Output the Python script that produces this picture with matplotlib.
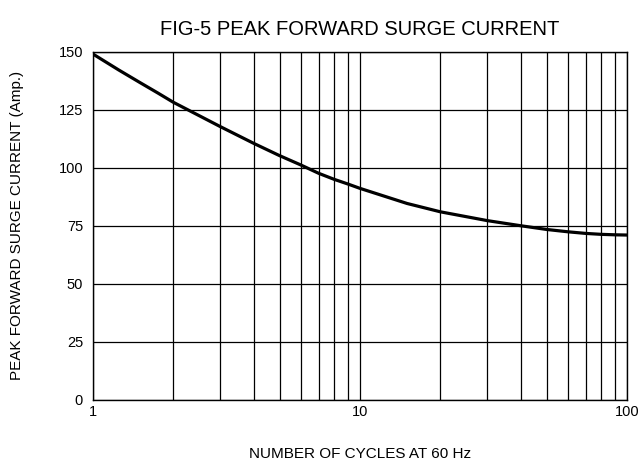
import numpy as np
import matplotlib
matplotlib.use("Agg")
import matplotlib.pyplot as plt
from matplotlib.ticker import LogLocator, FixedLocator, NullFormatter

plt.rcParams["font.family"] = ["Liberation Sans Narrow", "Liberation Sans", "DejaVu Sans"]

# values
cycles = [1, 1.25, 1.5, 1.75, 2, 3, 4, 5, 6, 7, 8, 9, 10, 15, 20, 30, 40, 50, 60, 70, 80, 90, 100]
current = [149.0, 142.1, 136.7, 132.2, 128.2, 117.7, 110.5, 105.2, 101.2, 97.6, 95.0, 93.0, 91.1,
           84.6, 81.0, 77.2, 75.0, 73.4, 72.4, 71.7, 71.3, 71.1, 71.0]

y_ticks = [0, 25, 50, 75, 100, 125, 150]
x_ticks = [1, 10, 100]
x_tick_labels = ["1", "10", "100"]

fig = plt.figure(figsize=(6.4, 4.65), dpi=100)
ax = fig.add_axes([0.145, 0.140, 0.835, 0.749])

ax.plot(cycles, current, color="black", linewidth=2.3, solid_capstyle="butt")

ax.set_xscale("log")
ax.set_xlim(1, 100)
ax.set_ylim(0, 150)

ax.xaxis.set_major_locator(FixedLocator(x_ticks))
ax.set_xticklabels(x_tick_labels)
ax.xaxis.set_minor_locator(LogLocator(base=10, subs=np.arange(2, 10)))
ax.xaxis.set_minor_formatter(NullFormatter())
ax.set_yticks(y_ticks)

ax.grid(True, which="both", axis="x", color="black", linewidth=0.9)
ax.grid(True, which="major", axis="y", color="black", linewidth=0.9)
ax.tick_params(which="both", length=0, labelsize=10.5)
ax.tick_params(axis="y", pad=7)
ax.tick_params(axis="x", pad=4)
for s in ax.spines.values():
    s.set_color("black")
    s.set_linewidth(1.0)

ax.set_title("FIG-5 PEAK FORWARD SURGE CURRENT", fontsize=14.5, pad=12)
ax.set_xlabel("NUMBER OF CYCLES AT 60 Hz", fontsize=11, labelpad=20)
ax.set_ylabel("PEAK FORWARD SURGE CURRENT (Amp.)", fontsize=11, labelpad=25)

fig.savefig("out.png", dpi=100)
